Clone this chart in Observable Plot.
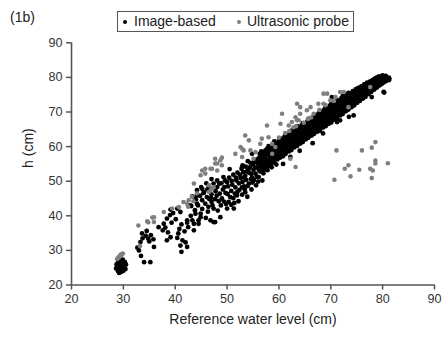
<!DOCTYPE html>
<html><head><meta charset="utf-8">
<script src="https://cdn.jsdelivr.net/npm/d3@7"></script>
<script src="https://cdn.jsdelivr.net/npm/@observablehq/plot@0.6"></script>
<style>
html,body{margin:0;padding:0;background:#fff;}
body{font-family:"Liberation Sans",Arial,Helvetica,sans-serif;color:#222;}
#wrap{position:relative;width:442px;height:337px;overflow:hidden;}
#wrap svg{position:absolute;left:0;top:0;}
.t{position:absolute;font-size:14px;line-height:16px;white-space:nowrap;color:#222;}
#box{position:absolute;left:117px;top:11px;width:237px;height:21px;box-sizing:border-box;border:1px solid #555;}
.dot{position:absolute;width:4px;height:4px;border-radius:50%;}
</style></head>
<body><div id="wrap"></div>
<script>
const panelTag = "(1b)";
const seriesNames = ["Image-based", "Ultrasonic probe"];
const seriesColors = ["#000000", "#7f7f7f"];
const xTicks = [20, 30, 40, 50, 60, 70, 80, 90];
const yTicks = [20, 30, 40, 50, 60, 70, 80, 90];
const xLabel = "Reference water level (cm)";
const yLabel = "h (cm)";

// Image-based: dense core of the cloud, read column by column (x, list of y)
const imageBandX = [56.3,56.9,57.4,58.0,58.6,59.1,59.7,60.2,60.8,61.3,61.9,62.4,63.0,63.5,64.1,64.6,65.2,65.7,66.3,66.8,67.4,67.9,68.5,69.0,69.6,70.1,70.7,71.2,71.8,72.3,72.9,73.4,74.0,74.5,75.1,75.6,76.2,76.7,77.3,77.8,78.4,78.9,79.5,80.0,80.6,81.2];
const imageBandY = [
[53.2,55.0,56.4,57.9],[52.8,54.1,55.8,57.3,58.4],[53.6,55.5,56.6,58.9],[54.4,55.9,57.5,58.6,60.1],
[55.1,56.8,58.0,59.5],[55.5,57.2,58.8,60.4,61.5],[56.3,57.6,59.3,60.8],[56.8,58.4,59.6,61.3,62.4],
[57.2,58.9,60.5,61.8],[57.9,59.3,60.8,62.3,63.6],[58.6,60.1,61.6,62.8],[59.0,60.6,62.1,63.7,64.6],
[59.8,61.2,62.6,64.0],[60.2,61.9,63.4,64.8,65.9],[60.9,62.3,63.9,65.3],[61.3,63.0,64.5,65.9,66.8],
[62.1,63.6,65.0,66.3],[62.6,64.1,65.7,67.2,68.0],[63.2,64.8,66.2,67.6],[63.7,65.3,66.9,68.2,69.2],
[64.3,65.8,67.3,68.8],[64.6,66.5,67.9,69.4,70.3],[65.5,66.9,68.5,69.8],[65.9,67.6,69.0,70.4,71.3],
[66.6,68.2,69.6,70.9],[67.0,68.7,70.2,71.6,72.5],[67.8,69.3,70.7,72.1],[68.3,69.9,71.3,72.8,73.4],
[69.0,70.5,71.9,73.2],[69.4,71.0,72.5,73.8,74.6],[70.2,71.6,73.1,74.3],[70.7,72.2,73.6,74.9,75.5],
[71.4,72.9,74.2,75.4],[71.9,73.4,74.7,76.0],[72.7,74.0,75.3,76.5],[73.2,74.6,75.9,77.0],
[73.9,75.2,76.4,77.5],[74.4,75.8,77.0,78.0],[75.2,76.4,77.5,78.4],[75.8,77.0,78.1,78.9],
[76.5,77.6,78.6,79.4],[77.1,78.2,79.1,79.9],[77.8,78.8,79.6,80.3],[78.3,79.3,80.1,80.6],
[78.9,79.8,80.4],[79.2,79.9]
];
// Image-based: second pass over the same core, between the columns above
const imageBand2X = [56.6,57.15,57.7,58.3,58.85,59.4,59.95,60.5,61.05,61.6,62.15,62.7,63.25,63.8,64.35,64.9,65.45,66.0,66.55,67.1,67.65,68.2,68.75,69.3,69.85,70.4,70.95,71.5,72.05,72.6,73.15,73.7,74.25,74.8,75.35,75.9,76.45,77.0,77.55,78.1,78.65,79.2,79.75,80.3];
const imageBand2Y = [
[54.2,55.7,57.1,58.6],[53.4,55.0,56.5,57.9],[54.5,56.1,57.8,59.3],[55.2,56.7,58.1,59.5],
[55.9,57.4,59.0,60.6],[56.5,58.0,59.6,60.9],[57.0,58.7,60.1,61.7],[57.6,59.1,60.7,62.0],
[58.1,59.7,61.2,62.8],[58.7,60.3,61.9,63.1],[59.3,60.9,62.4,63.9],[59.9,61.5,62.9,64.3],
[60.4,62.0,63.5,65.0],[61.0,62.6,64.1,65.4],[61.6,63.2,64.6,66.1],[62.2,63.7,65.3,66.5],
[62.8,64.3,65.8,67.2],[63.3,64.9,66.4,67.7],[63.9,65.5,67.0,68.4],[64.5,66.1,67.5,68.9],
[65.1,66.6,68.1,69.6],[65.6,67.2,68.7,70.0],[66.2,67.8,69.2,70.7],[66.8,68.3,69.8,71.1],
[67.3,68.9,70.4,71.8],[67.9,69.5,71.0,72.2],[68.5,70.0,71.5,72.9],[69.1,70.6,72.1,73.3],
[69.7,71.2,72.6,74.0],[70.3,71.8,73.2,74.3],[70.9,72.4,73.8,75.0],[71.5,72.9,74.3,75.3],
[72.1,73.6,74.9,76.0],[72.6,74.1,75.4,76.5],[73.3,74.7,76.0,77.0],[73.9,75.3,76.6,77.4],
[74.6,75.9,77.1,78.0],[75.2,76.5,77.6,78.5],[75.8,77.0,78.1,78.8],[76.4,77.6,78.6,79.3],
[77.1,78.2,79.2,79.8],[77.6,78.7,79.6,80.2],[78.2,79.2,80.0],[78.7,79.6,80.3]
];
// Image-based: looser points (lower-left cluster, streaks, outliers)
const imageScatter = [
[29.0,24.0],[29.5,24.5],[30.0,24.1],[29.0,25.1],[29.5,25.5],[30.0,25.2],[28.7,26.0],[29.2,26.5],[29.8,26.1],[30.3,26.6],[29.0,27.0],[29.6,27.1],[28.8,25.5],[30.2,25.5],[29.6,23.8],[28.9,24.6],[30.4,24.6],[29.3,26.0],[29.9,27.3],[29.2,23.5],[28.6,24.8],[30.5,25.9],
[33.0,30.0],[33.4,28.4],[34.0,26.6],[35.2,26.6],[32.7,30.8],[33.3,32.4],[33.7,33.5],[34.3,34.2],[34.8,33.4],[35.3,34.4],[35.8,33.2],[34.5,35.6],[33.6,34.9],[35.9,31.0],[35.0,32.6],
[36.8,36.7],[37.8,37.7],[38.4,39.2],[39.0,40.2],[38.1,36.6],[39.3,38.0],[39.1,33.8],[38.4,32.9],[38.6,35.2],[37.6,35.8],[39.6,40.8],[40.1,39.0],[39.1,41.8],[40.4,42.1],[41.0,41.1],
[41.2,29.6],[41.4,32.9],[40.6,34.9],[42.0,32.3],[40.8,36.2],[41.2,37.5],[41.8,35.5],[42.3,38.0],[40.4,33.6],[42.3,31.0],[41.0,31.4],
[42.5,36.7],[43.6,35.8],[43.3,38.7],[44.5,37.7],[46.8,38.7],[47.7,38.2],[44.9,40.6],[43.0,40.0],[43.8,41.6],[44.4,43.0],[45.2,42.0],[45.8,43.5],[46.3,41.2],[46.6,44.8],[47.2,43.0],[43.1,42.8],[44.0,44.8],[44.8,45.8],[45.5,46.6],[46.2,47.6],[47.0,46.2],[45.0,48.3],[46.0,49.4],[47.0,50.6],[44.2,47.4],[43.3,45.6],[45.9,39.4],[48.2,41.5],
[42.3,38.7],[43.6,37.7],[44.5,38.7],[44.9,39.6],[43.9,40.6],[42.9,43.0],[44.2,43.5],[45.2,44.5],[44.2,45.9],[45.5,46.8],[46.1,45.4],[45.2,47.8],[46.5,48.3],[47.4,49.3],[48.1,50.2],[49.3,51.2],
[47.4,42.1],[48.7,39.6],[47.4,38.2],[50.0,42.1],[51.3,42.1],[50.3,44.0],[51.9,45.9],[53.5,46.8],[52.9,48.3],[48.1,48.3],[48.9,49.4],[49.6,50.2],[50.4,51.0],[51.2,51.9],[52.0,52.5],[52.8,53.6],[53.6,54.2],[54.5,55.3],[55.3,56.0],[56.2,56.8],[57.0,57.6],
[50.6,45.4],[51.5,46.4],[52.4,47.5],[53.3,48.5],[54.2,49.3],[55.2,50.3],[56.1,51.2],[57.0,52.3],[57.8,53.2],[58.6,54.0],[59.5,54.8],
[49.0,45.0],[49.7,46.6],[48.4,44.2],[49.2,47.6],[50.2,48.5],[51.0,49.0],[51.8,50.2],[52.6,50.9],[53.5,51.6],[54.3,52.4],[55.1,53.3],[55.9,54.0],[56.7,54.9],[57.5,55.6],[50.8,47.2],[53.0,49.8],[54.8,51.0],[56.4,52.8],[58.2,55.8],[58.9,57.0],[59.6,57.8],[48.0,45.8],[47.0,44.0],[46.4,42.6],[55.6,48.8],[56.8,50.2],[53.9,45.5],[52.2,44.2],[54.7,47.6],[51.4,43.7],
[48.6,46.4],[49.5,48.3],[50.1,46.3],[50.9,50.1],[51.6,48.2],[52.3,49.4],[52.9,46.1],[53.7,50.4],[54.1,53.3],[54.9,49.6],[55.5,52.2],[55.9,55.2],[56.0,49.9],[53.1,52.6],[51.7,51.0],[50.0,49.7],[49.4,44.1],[48.8,43.0],[50.8,43.2],[52.0,46.9],[53.4,47.6],[54.6,50.6],[55.7,51.3],[57.3,53.8],[57.9,54.6],[47.8,47.1],[48.5,49.3],[46.9,45.2],[47.7,44.8],[54.0,48.6],[51.2,45.1],[49.8,43.4],
[53.8,52.8],[54.4,54.0],[55.0,54.8],[55.4,53.9],[55.8,56.3],[54.7,52.1],[53.3,51.1],[52.5,51.8],[55.2,55.5],[56.1,53.4],[54.0,55.8],[53.0,54.6],
[54.8,57.9],[52.9,54.1],[50.5,53.5],[58.3,58.4],[59.4,59.6],
[80.2,75.8],[77.9,74.3],[74.4,69.0],[71.2,67.1],[71.8,67.6],[75.0,76.7],[70.2,74.3],[72.5,74.5],[80.3,75.6],[73.5,68.6],[66.5,61.0],[64.0,58.8],[62.2,57.0],[68.5,63.8],[60.8,55.0],[81.3,79.6]
];
// Ultrasonic probe points
const ultrasonic = [
[28.8,27.5],[29.2,28.0],[29.6,28.5],[29.0,27.9],[29.5,28.8],[29.9,29.1],[29.3,28.3],
[33.2,31.3],[32.9,37.2],[34.8,38.1],[35.6,39.5],[34.6,38.4],[35.9,38.2],[35.9,39.6],[37.8,41.1],[39.4,42.1],[40.7,42.5],
[42.3,43.5],[43.2,45.5],[44.2,46.5],[42.5,42.6],[43.5,44.2],[41.6,44.0],[42.6,44.5],[43.6,49.3],[44.9,51.7],[45.2,53.1],
[45.8,53.6],[46.8,53.6],[47.1,53.6],[48.1,53.1],[45.8,52.2],[48.1,55.1],[47.7,55.1],[48.7,56.0],[47.7,56.5],[49.0,56.8],
[49.0,54.6],[46.5,48.8],[47.1,47.8],[46.5,46.9],[47.4,48.3],[46.8,47.3],
[51.6,57.9],[52.6,59.9],[53.2,58.9],[52.9,57.0],[54.5,58.9],[55.1,56.5],[55.5,58.4],[52.9,59.4],[53.5,63.2],[54.2,61.8],
[56.7,62.3],[58.0,62.7],[58.7,60.8],[56.4,60.8],[59.3,59.9],[58.7,57.9],[57.7,66.1],[60.6,69.5],[60.3,66.6],[61.9,66.1],
[63.5,67.6],[64.1,69.5],[62.8,65.6],[63.2,54.1],[62.2,56.5],
[60.0,62.6],[61.2,63.9],[62.0,64.5],[64.8,66.9],[66.2,68.4],[67.8,70.6],[69.0,72.0],[70.6,73.2],[65.6,68.0],[63.3,65.9],
[68.6,75.3],[69.3,75.3],[71.8,75.8],[72.5,75.8],[70.9,74.3],[69.9,73.4],[67.6,72.4],[66.1,71.4],[63.5,72.4],[64.1,71.4],
[63.2,68.5],[62.5,67.1],[63.8,67.6],[65.4,70.5],[66.7,69.5],[68.6,72.4],[73.4,71.4],[77.6,77.2],
[71.1,58.9],[76.0,58.9],[77.9,59.7],[78.6,61.3],[78.6,56.0],[78.6,55.1],[81.0,55.2],[73.4,54.6],[72.7,53.6],[75.5,53.3],
[77.6,53.6],[78.1,53.1],[73.8,51.4],[70.7,50.4],[77.9,50.9]
];

const imageData = [];
imageBandX.forEach((x, i) => imageBandY[i].forEach(y => imageData.push({x, y})));
imageBand2X.forEach((x, i) => imageBand2Y[i].forEach(y => imageData.push({x, y})));
imageScatter.forEach(([x, y]) => imageData.push({x, y}));
const ultraData = ultrasonic.map(([x, y]) => ({x, y}));

const font = '"Liberation Sans", Arial, Helvetica, sans-serif';
const chart = Plot.plot({
  width: 442, height: 337,
  marginLeft: 71, marginRight: 8, marginTop: 42.3, marginBottom: 52.5,
  style: {fontFamily: font, fontSize: "12.6px", background: "transparent", color: "#333"},
  x: {domain: [20, 90]},
  y: {domain: [20, 90]},
  marks: [
    Plot.dot(imageData, {x: "x", y: "y", r: 2.4, fill: seriesColors[0], stroke: "none"}),
    Plot.dot(ultraData, {x: "x", y: "y", r: 2.3, fill: seriesColors[1], stroke: "none"}),
    Plot.ruleY([20], {stroke: "#555", strokeWidth: 1.6}),
    Plot.ruleX([20], {stroke: "#555", strokeWidth: 1.6}),
    Plot.axisX({ticks: xTicks, tickSize: 5, tickPadding: 4, label: null, stroke: "#555", strokeWidth: 1.5, fill: "#333"}),
    Plot.axisY({ticks: yTicks, tickSize: 5, tickPadding: 4, label: null, stroke: "#555", strokeWidth: 1.5, fill: "#333"}),
    Plot.text([xLabel], {frameAnchor: "bottom", dy: 38.5, fontSize: 14, fill: "#222", text: d => d}),
    Plot.text([yLabel], {frameAnchor: "left", dx: -43, dy: 4, rotate: -90, fontSize: 14, fill: "#222", text: d => d})
  ]
});
const wrap = document.getElementById("wrap");
wrap.appendChild(chart);

function addText(txt, left, top) {
  const s = document.createElement("div");
  s.className = "t"; s.textContent = txt;
  s.style.left = left + "px"; s.style.top = top + "px";
  wrap.appendChild(s);
}
function addDot(color, cx, cy) {
  const d = document.createElement("div");
  d.className = "dot"; d.style.background = color;
  d.style.left = (cx - 2) + "px"; d.style.top = (cy - 2) + "px";
  wrap.appendChild(d);
}
addText(panelTag, 10, 9);
const box = document.createElement("div"); box.id = "box"; wrap.appendChild(box);
addDot(seriesColors[0], 125, 21.5);
addText(seriesNames[0], 134, 13);
addDot(seriesColors[1], 239, 21.5);
addText(seriesNames[1], 247, 13);
</script>
</body></html>
